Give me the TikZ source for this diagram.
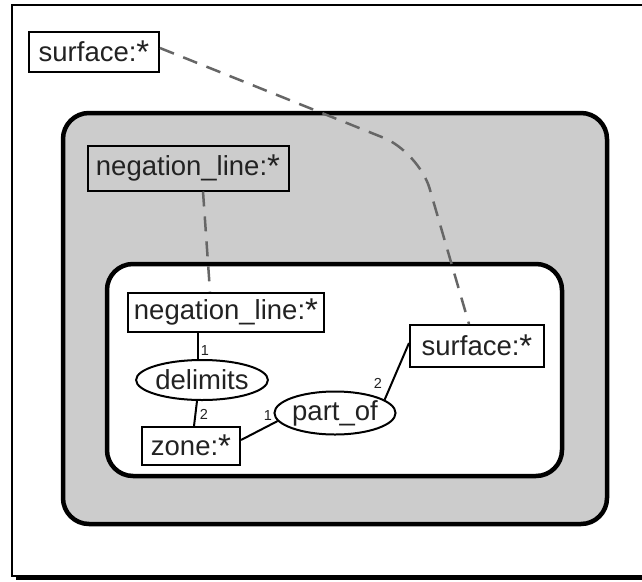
\documentclass[tikz,border=0pt]{standalone}
\usepackage{fontspec}
\setmainfont{Liberation Sans}
\usetikzlibrary{shapes.geometric,calc}
\definecolor{panelgray}{HTML}{CCCCCC}
\definecolor{linkgray}{HTML}{666666}
\definecolor{inkgray}{HTML}{222222}
% the referent marker, a little larger than the running text
\newcommand\refstar{\raisebox{-2pt}{\fontsize{33}{33}\selectfont *}}
\begin{document}
\begin{tikzpicture}[x=1pt,y=-1pt,
  concept/.style={draw,line width=2pt,fill=white,inner sep=0pt,
    font=\fontsize{27.5}{30}\selectfont,text=inkgray},
  relation/.style={ellipse,draw,line width=2pt,fill=white,inner sep=0pt,
    font=\fontsize{27.5}{30}\selectfont,text=inkgray},
  arc/.style={line width=2pt},
  coref/.style={draw=linkgray,line width=2.5pt,dash pattern=on 15pt off 10pt},
  context/.style={draw,line width=4.5pt,rounded corners=26pt},
  argnum/.style={font=\fontsize{14.5}{15}\selectfont,inner sep=0pt,text=inkgray}
]
\useasboundingbox (0,0) rectangle (642,581);
\clip (0,0) rectangle (642,581);

% sheet with drop shadow
\fill[black] (16,9) rectangle (660,580);
\draw[fill=white,line width=2.2pt] (12,5) rectangle (656,576);

% nested negated context and its inner context
\draw[context,fill=panelgray] (63,113) rectangle (607,524);
\draw[context,fill=white] (107,264) rectangle (562,476);

% concepts and relations
\node[concept,minimum width=130pt,minimum height=40pt] (sA) at (94,52) {surface:\refstar};
\node[concept,fill=panelgray,minimum width=201pt,minimum height=45pt] (nA) at (188,168) {negation\_line:\refstar};
\node[concept,minimum width=196pt,minimum height=39pt] (nB) at (226,312) {negation\_line:\refstar};
\node[relation,minimum width=117pt,minimum height=40pt] (delim) at (202,380) {delimits};
\node[concept,minimum width=98pt,minimum height=38pt] (zone) at (191,446) {zone:\refstar};
\node[relation,minimum width=115pt,minimum height=43pt] (part) at (335,413) {part\_of};
\node[concept,minimum width=134pt,minimum height=42pt] (sB) at (477,346) {surface:\refstar};

% relation arcs
\coordinate (arcx) at (198,0);
\draw[arc] (nB.south -| arcx) -- (delim.north -| arcx);
\draw[arc] ($(delim.south)+(-5,0)$) -- ($(zone.north)+(3,0)$);
\draw[arc] ($(zone.east)+(0,-6)$) -- (part.188);
\draw[arc] (part.15) -- ($(sB.west)+(0,-3)$);

\node[argnum] (l1) at (205,351) {1};
\node[argnum] (l2) at (204,414) {2};
\node[argnum] (l3) at (268,416) {1};
\node[argnum] (l4) at (378,383) {2};

% coreference links
\coordinate (bend) at (419,152);
\draw[coref,rounded corners=38pt] ($(sA.east)+(0,-4)$) -- (bend) -- ($(sB.north)+(-8,0)$);
\draw[coref] ($(nA.south)+(15,0)$) -- ($(nB.north)+(-16,0)$);
\end{tikzpicture}
\end{document}
